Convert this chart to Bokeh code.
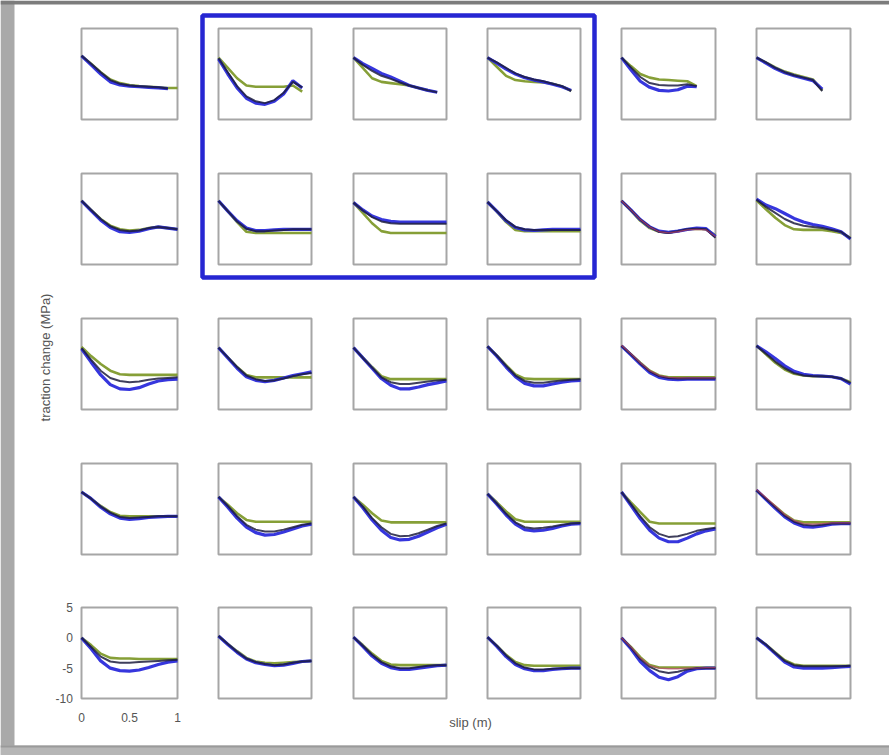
import math
import numpy as np
from bokeh.plotting import figure
from bokeh.models import Range1d
from bokeh.core.properties import value
from bokeh.embed import file_html
from bokeh.resources import INLINE

nan = float("nan")

# slip samples (m) shared by every panel
SLIP = [0.0, 0.1, 0.2, 0.3, 0.4, 0.5, 0.6, 0.7, 0.8, 0.9, 1.0]

# traction change (MPa) per panel, one list per row, six panels per row
GREEN_R1 = [
    [0.5, -0.8, -2.2, -3.4, -4.0, -4.3, -4.5, -4.6, -4.7, -4.8, -4.8],
    [0.2, -1.5, -3.2, -4.4, -4.6, -4.6, -4.6, -4.6, -4.4, -5.4, nan],
    [0.2, -1.5, -3.2, -3.8, -4.0, -4.2, -4.4, -4.8, -5.2, nan, nan],
    [0.2, -1.3, -2.8, -3.5, -3.7, -3.8, -3.9, -4.1, -4.5, -5.3, nan],
    [0.2, -1.2, -2.5, -3.1, -3.4, -3.5, -3.6, -3.7, -4.5, nan, nan],
    [0.2, -0.6, -1.4, -2.1, -2.6, -3.0, -3.4, -5.2, nan, nan, nan],
]
BLUE_R1 = [
    [0.5, -1.0, -2.5, -3.8, -4.3, -4.5, -4.6, -4.7, -4.8, -4.9, nan],
    [0.0, -2.5, -4.8, -6.5, -7.3, -7.5, -7.0, -5.8, -3.6, -4.8, nan],
    [0.2, -0.8, -1.6, -2.4, -3.0, -3.7, -4.4, -4.8, -5.2, -5.5, nan],
    [0.2, -0.7, -1.7, -2.5, -3.1, -3.5, -3.8, -4.2, -4.6, -5.2, nan],
    [0.2, -1.8, -3.7, -4.7, -5.2, -5.3, -5.1, -4.5, -4.6, nan, nan],
    [0.2, -0.7, -1.6, -2.3, -2.8, -3.2, -3.6, -5.0, nan, nan, nan],
]
DARK_R1 = [
    [0.5, -0.8, -2.2, -3.5, -4.1, -4.4, -4.5, -4.6, -4.7, -4.9, nan],
    [0.1, -2.2, -4.5, -6.2, -7.0, -7.3, -6.8, -5.6, -3.8, -4.7, nan],
    [0.2, -1.0, -2.0, -2.8, -3.3, -3.9, -4.4, -4.8, -5.2, -5.5, nan],
    [0.2, -0.6, -1.5, -2.4, -3.0, -3.4, -3.7, -4.1, -4.5, -5.3, nan],
    [0.2, -1.4, -3.0, -4.0, -4.3, -4.4, -4.4, -4.2, -4.5, nan, nan],
    [0.2, -0.6, -1.5, -2.2, -2.7, -3.1, -3.5, -5.3, nan, nan, nan],
]
RED_R1 = [None, None, None, None, None, None]

GREEN_R2 = [
    [0.5, -1.0, -2.5, -3.6, -4.2, -4.4, -4.3, -4.0, -3.8, -4.0, -4.2],
    [0.5, -1.2, -3.0, -4.6, -4.8, -4.8, -4.8, -4.8, -4.8, -4.8, -4.8],
    [0.2, -1.5, -3.2, -4.5, -4.8, -4.8, -4.8, -4.8, -4.8, -4.8, -4.8],
    [0.3, -1.3, -3.0, -4.3, -4.5, -4.5, -4.5, -4.5, -4.5, -4.5, -4.5],
    [0.5, -1.1, -2.8, -4.0, -4.6, -4.7, -4.5, -4.2, -4.1, -4.2, -5.2],
    [0.6, -0.9, -2.3, -3.5, -4.2, -4.3, -4.3, -4.3, -4.5, -4.8, -5.6],
]
BLUE_R2 = [
    [0.5, -1.1, -2.7, -3.9, -4.6, -4.7, -4.5, -4.1, -3.8, -4.0, -4.2],
    [0.5, -1.2, -2.8, -4.0, -4.4, -4.4, -4.3, -4.2, -4.2, -4.2, -4.2],
    [0.2, -1.0, -2.0, -2.6, -2.9, -3.0, -3.0, -3.0, -3.0, -3.0, -3.0],
    [0.3, -1.2, -2.8, -3.9, -4.3, -4.4, -4.3, -4.2, -4.2, -4.2, -4.2],
    [0.5, -1.0, -2.6, -3.8, -4.5, -4.7, -4.5, -4.2, -4.0, -4.1, -5.4],
    [0.8, -0.2, -0.8, -1.6, -2.4, -3.0, -3.4, -3.7, -4.1, -4.6, -5.8],
]
DARK_R2 = [
    [0.5, -1.0, -2.5, -3.7, -4.3, -4.5, -4.4, -4.0, -3.8, -4.0, -4.2],
    [0.5, -1.2, -2.9, -4.1, -4.5, -4.5, -4.4, -4.3, -4.2, -4.2, -4.2],
    [0.2, -1.1, -2.2, -2.9, -3.2, -3.3, -3.3, -3.3, -3.3, -3.3, -3.3],
    [0.3, -1.2, -2.7, -3.8, -4.2, -4.3, -4.3, -4.3, -4.3, -4.3, -4.3],
    [0.5, -1.0, -2.6, -3.8, -4.6, -4.8, -4.5, -4.2, -4.1, -4.2, -5.6],
    [0.7, -0.5, -1.5, -2.5, -3.2, -3.6, -3.8, -4.0, -4.3, -4.6, -5.7],
]
RED_R2 = [
    None, None, None, None,
    [0.5, -1.0, -2.6, -3.8, -4.6, -4.8, -4.6, -4.3, -4.2, -4.3, -5.4],
    None,
]

GREEN_R3 = [
    [0.3, -1.2, -2.5, -3.6, -4.2, -4.3, -4.3, -4.3, -4.3, -4.3, -4.3],
    [0.2, -1.4, -3.0, -4.3, -4.7, -4.7, -4.7, -4.7, -4.7, -4.7, -4.7],
    [0.2, -1.4, -3.0, -4.5, -5.0, -5.0, -5.0, -5.0, -5.0, -5.0, -5.0],
    [0.4, -1.1, -2.7, -4.2, -4.9, -5.0, -5.0, -5.0, -5.0, -5.0, -5.0],
    [0.5, -0.9, -2.3, -3.6, -4.4, -4.7, -4.7, -4.7, -4.7, -4.7, -4.7],
    [0.5, -0.9, -2.3, -3.4, -4.1, -4.4, -4.5, -4.5, -4.6, -4.9, -5.5],
]
BLUE_R3 = [
    [0.0, -2.2, -4.3, -5.9, -6.6, -6.7, -6.4, -5.8, -5.3, -5.1, -5.0],
    [0.2, -1.5, -3.2, -4.6, -5.2, -5.4, -5.2, -4.8, -4.4, -4.1, -3.8],
    [0.2, -1.5, -3.2, -4.9, -6.0, -6.6, -6.6, -6.3, -5.9, -5.6, -5.3],
    [0.4, -1.2, -3.0, -4.6, -5.7, -6.1, -6.1, -5.8, -5.5, -5.3, -5.2],
    [0.5, -1.0, -2.5, -3.9, -4.7, -5.0, -5.1, -5.0, -5.0, -5.0, -5.0],
    [0.5, -0.5, -1.6, -2.8, -3.7, -4.2, -4.4, -4.5, -4.6, -4.9, -5.8],
]
DARK_R3 = [
    [0.1, -1.8, -3.6, -4.8, -5.3, -5.5, -5.4, -5.1, -4.9, -4.8, -4.7],
    [0.2, -1.4, -3.0, -4.4, -5.0, -5.3, -5.2, -4.9, -4.5, -4.2, -4.0],
    [0.2, -1.5, -3.1, -4.7, -5.5, -5.8, -5.8, -5.6, -5.4, -5.2, -5.1],
    [0.4, -1.1, -2.8, -4.4, -5.3, -5.6, -5.6, -5.4, -5.2, -5.1, -5.0],
    [0.5, -0.9, -2.4, -3.7, -4.5, -4.8, -4.9, -4.9, -4.9, -4.9, -4.9],
    [0.5, -0.8, -2.1, -3.2, -4.0, -4.4, -4.5, -4.5, -4.6, -4.9, -5.6],
]
RED_R3 = [
    None, None, None, None,
    [0.6, -0.8, -2.3, -3.6, -4.4, -4.7, -4.8, -4.8, -4.8, -4.8, -4.8],
    None,
]

GREEN_R4 = [
    [0.3, -0.8, -2.0, -3.0, -3.6, -3.7, -3.7, -3.7, -3.7, -3.7, -3.7],
    [-0.5, -1.8, -3.2, -4.3, -4.6, -4.6, -4.6, -4.6, -4.6, -4.6, -4.6],
    [-0.5, -1.8, -3.2, -4.4, -4.7, -4.7, -4.7, -4.7, -4.7, -4.7, -4.7],
    [0.0, -1.4, -2.9, -4.2, -4.6, -4.6, -4.6, -4.6, -4.6, -4.6, -4.6],
    [0.3, -1.4, -3.0, -4.6, -4.9, -4.9, -4.9, -4.9, -4.9, -4.9, -4.9],
    [0.6, -0.8, -2.1, -3.4, -4.4, -4.7, -4.7, -4.7, -4.7, -4.7, -4.7],
]
BLUE_R4 = [
    [0.3, -0.8, -2.2, -3.3, -4.0, -4.2, -4.1, -3.9, -3.8, -3.7, -3.7],
    [-0.5, -2.2, -4.0, -5.5, -6.4, -6.8, -6.7, -6.3, -5.8, -5.3, -5.0],
    [-0.5, -2.3, -4.3, -6.0, -7.2, -7.6, -7.5, -7.0, -6.3, -5.6, -5.0],
    [0.0, -1.7, -3.5, -5.0, -5.9, -6.1, -6.0, -5.7, -5.3, -5.0, -4.9],
    [0.3, -1.9, -4.1, -6.0, -7.3, -7.9, -7.9, -7.3, -6.6, -6.1, -5.8],
    [0.6, -0.9, -2.4, -3.8, -4.8, -5.4, -5.5, -5.3, -5.0, -4.9, -4.9],
]
DARK_R4 = [
    [0.3, -0.8, -2.1, -3.1, -3.8, -4.0, -3.9, -3.8, -3.7, -3.7, -3.7],
    [-0.5, -2.0, -3.7, -5.1, -5.9, -6.2, -6.2, -5.9, -5.5, -5.1, -4.9],
    [-0.5, -2.1, -4.0, -5.5, -6.6, -7.0, -6.9, -6.5, -5.9, -5.3, -4.9],
    [0.0, -1.6, -3.3, -4.7, -5.5, -5.7, -5.6, -5.4, -5.1, -4.9, -4.8],
    [0.3, -1.7, -3.7, -5.5, -6.6, -7.1, -7.0, -6.6, -6.1, -5.8, -5.6],
    [0.6, -0.8, -2.2, -3.6, -4.6, -5.1, -5.2, -5.1, -4.9, -4.9, -4.9],
]
RED_R4 = [
    None, None, None, None, None,
    [0.7, -0.6, -2.0, -3.4, -4.4, -4.9, -5.0, -4.9, -4.8, -4.8, -4.8],
]

GREEN_R5 = [
    [0.0, -1.2, -2.6, -3.3, -3.4, -3.4, -3.5, -3.5, -3.5, -3.5, -3.5],
    [0.3, -1.0, -2.2, -3.3, -3.9, -4.1, -4.2, -4.1, -4.0, -3.9, -3.8],
    [0.1, -1.2, -2.6, -3.8, -4.4, -4.5, -4.5, -4.5, -4.5, -4.5, -4.5],
    [0.1, -1.3, -2.8, -4.0, -4.5, -4.6, -4.6, -4.6, -4.6, -4.6, -4.6],
    [0.0, -1.5, -3.2, -4.5, -4.9, -4.9, -4.9, -4.9, -4.9, -4.9, -4.9],
    [0.0, -1.1, -2.4, -3.7, -4.4, -4.6, -4.6, -4.6, -4.6, -4.6, -4.6],
]
BLUE_R5 = [
    [0.0, -1.8, -3.8, -5.0, -5.4, -5.5, -5.3, -4.9, -4.4, -4.0, -3.8],
    [0.3, -1.1, -2.4, -3.5, -4.1, -4.4, -4.6, -4.5, -4.2, -3.9, -3.8],
    [0.1, -1.4, -3.0, -4.2, -4.9, -5.2, -5.2, -5.0, -4.8, -4.6, -4.5],
    [0.1, -1.4, -3.1, -4.4, -5.1, -5.4, -5.4, -5.2, -5.1, -5.0, -5.0],
    [0.0, -1.8, -3.9, -5.4, -6.5, -6.9, -6.4, -5.5, -5.1, -5.0, -5.0],
    [0.0, -1.2, -2.6, -4.0, -4.8, -5.0, -5.0, -5.0, -4.9, -4.8, -4.7],
]
DARK_R5 = [
    [0.0, -1.5, -3.1, -3.9, -4.1, -4.1, -4.0, -3.9, -3.8, -3.7, -3.6],
    [0.3, -1.0, -2.3, -3.4, -4.0, -4.3, -4.5, -4.4, -4.1, -3.9, -3.8],
    [0.1, -1.3, -2.8, -4.0, -4.7, -5.0, -5.0, -4.8, -4.6, -4.5, -4.5],
    [0.1, -1.3, -2.9, -4.2, -4.9, -5.2, -5.2, -5.1, -5.0, -5.0, -5.0],
    [0.0, -1.6, -3.5, -4.8, -5.5, -5.8, -5.6, -5.2, -5.0, -5.0, -5.0],
    [0.0, -1.1, -2.5, -3.8, -4.5, -4.7, -4.7, -4.7, -4.7, -4.7, -4.6],
]
RED_R5 = [
    None, None, None, None,
    [0.0, -1.5, -3.3, -4.6, -5.0, -5.1, -5.1, -5.0, -5.0, -4.9, -4.9],
    None,
]

GREEN = [GREEN_R1, GREEN_R2, GREEN_R3, GREEN_R4, GREEN_R5]
BLUE = [BLUE_R1, BLUE_R2, BLUE_R3, BLUE_R4, BLUE_R5]
DARK = [DARK_R1, DARK_R2, DARK_R3, DARK_R4, DARK_R5]
RED = [RED_R1, RED_R2, RED_R3, RED_R4, RED_R5]

SLIP_RANGE = (0.0, 1.0)
TRACTION_RANGE = (-10.0, 5.0)
Y_TICKS = [5, 0, -5, -10]
Y_TICK_LABELS = ["5", "0", "-5", "-10"]
X_TICKS = [0, 0.5, 1]
X_TICK_LABELS = ["0", "0.5", "1"]

# page layout (pixels): panel frames
COL_LEFT = [81, 218, 353, 487, 621, 756]
COL_WIDTH = [96, 93, 93, 93, 94, 94]
ROW_TOP = [28, 173, 318, 463, 607]
ROW_HEIGHT = 91

W, H = 889, 755
FONT = value("Liberation Sans")

p = figure(width=W, height=H, output_backend="svg", toolbar_location=None,
           x_range=Range1d(0, W), y_range=Range1d(H, 0),
           min_border=0, background_fill_color="white",
           border_fill_color="white")
p.axis.visible = False
p.grid.visible = False
p.outline_line_color = None

# grey window frame
p.quad(left=[0], right=[14], top=[0], bottom=[H], fill_color="#a9a9a9", line_color=None)
p.quad(left=[0], right=[W], top=[0], bottom=[4], fill_color="#7c7c7c", line_color=None)
p.quad(left=[0], right=[W], top=[745], bottom=[H], fill_color="#b6b6b6", line_color=None)
p.quad(left=[0], right=[W], top=[745], bottom=[747], fill_color="#9a9a9a", line_color=None)

x = np.array(SLIP)

for r in range(5):
    for c in range(6):
        left = COL_LEFT[c]
        top = ROW_TOP[r]
        sub = p.subplot(
            x_source=Range1d(*SLIP_RANGE), y_source=Range1d(*TRACTION_RANGE),
            x_target=Range1d(left, left + COL_WIDTH[c]),
            y_target=Range1d(top + ROW_HEIGHT, top),
        )
        sub.quad(left=[SLIP_RANGE[0]], right=[SLIP_RANGE[1]],
                 bottom=[TRACTION_RANGE[0]], top=[TRACTION_RANGE[1]],
                 fill_color="white", line_color="#a6a6a6", line_width=2)
        sub.line(x, np.array(GREEN[r][c], dtype=float), line_color="#7f9a2c",
                 line_width=2.6, line_alpha=0.95)
        sub.line(x, np.array(BLUE[r][c], dtype=float), line_color="#2b2bdb",
                 line_width=3.2, line_alpha=0.95)
        sub.line(x, np.array(DARK[r][c], dtype=float), line_color="#1d1d40",
                 line_width=2.0, line_alpha=0.85)
        if RED[r][c] is not None:
            sub.line(x, np.array(RED[r][c], dtype=float), line_color="#b8406a",
                     line_width=1.3, line_alpha=0.7)
        if r == 4 and c == 0:
            sub.text(x=[-0.09] * len(Y_TICKS), y=Y_TICKS, text=Y_TICK_LABELS,
                     text_align="right", text_baseline="middle",
                     text_font=FONT, text_font_size="12px", text_color="#555555")
            sub.text(x=X_TICKS, y=[-13.1] * len(X_TICKS), text=X_TICK_LABELS,
                     text_align="center", text_baseline="middle",
                     text_font=FONT, text_font_size="12px", text_color="#555555")

# highlighted block of panels
p.quad(left=[202], right=[594], top=[15], bottom=[277], fill_color=None,
       line_color="#2626d2", line_width=4.5)

p.text(x=[45], y=[357], text=["traction change (MPa)"], angle=math.pi / 2,
       text_align="center", text_baseline="middle", text_font=FONT,
       text_font_size="13px", text_color="#555555")
p.text(x=[470], y=[722], text=["slip (m)"], text_align="center",
       text_baseline="middle", text_font=FONT, text_font_size="13px",
       text_color="#555555")

open("out.html", "w").write(file_html(p, INLINE))
